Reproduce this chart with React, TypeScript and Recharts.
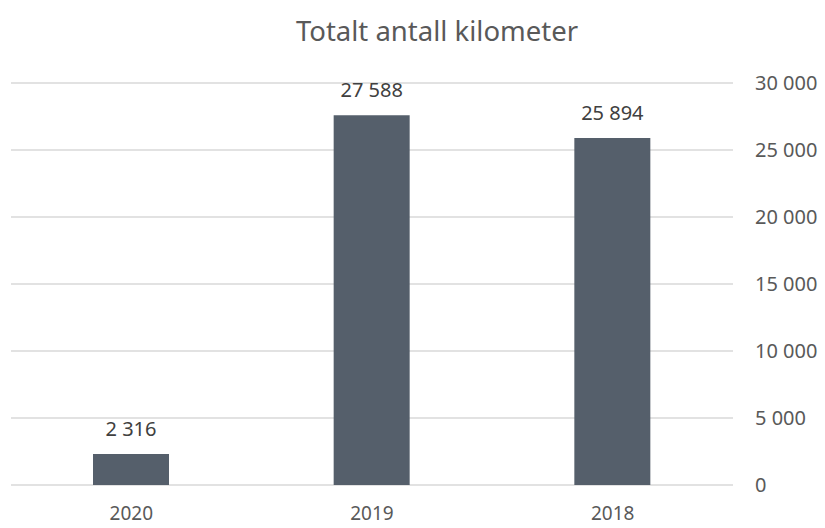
import React from 'react';
import { BarChart, Bar, XAxis, YAxis, CartesianGrid, LabelList } from 'recharts';

const years = ['2020', '2019', '2018'];
const kilometers = [2316, 27588, 25894];
const yTicks = [0, 5000, 10000, 15000, 20000, 25000, 30000];

const data = years.map((year, i) => ({ year, km: kilometers[i] }));

const FONT = '"Noto Sans", sans-serif';
const TEXT = '#595959';

// "27588" -> "27 588"
const fmt = (v: number) => String(v).replace(/\B(?=(\d{3})+(?!\d))/g, ' ');

export default function App() {
  return (
    <div style={{ position: 'absolute', left: 0, top: 0, width: 825, height: 528, background: '#fff' }}>
      <BarChart
        width={825}
        height={528}
        data={data}
        margin={{ top: 83, right: 12, left: 11, bottom: 0 }}
        barCategoryGap="0%"
      >
        <text
          x={437}
          y={41}
          textAnchor="middle"
          style={{ fontFamily: FONT, fontSize: 27.5, fill: TEXT }}
        >
          Totalt antall kilometer
        </text>
        <CartesianGrid vertical={false} stroke="#d9d9d9" strokeWidth={1.5} />
        <XAxis
          dataKey="year"
          axisLine={false}
          tickLine={false}
          tickSize={6}
          tickMargin={16}
          height={43}
          tick={{ fill: TEXT, fontSize: 19, fontFamily: FONT }}
        />
        <YAxis
          orientation="right"
          domain={[0, 30000]}
          ticks={yTicks}
          tickFormatter={fmt}
          axisLine={false}
          tickLine={false}
          tickSize={6}
          tickMargin={16}
          width={80}
          tick={{ fill: TEXT, fontSize: 20, fontFamily: FONT }}
        />
        <Bar dataKey="km" fill="#555f6b" barSize={76} isAnimationActive={false}>
          <LabelList
            dataKey="km"
            position="top"
            offset={18}
            formatter={(v: any) => fmt(Number(v))}
            style={{ fill: '#404040', fontSize: 20, fontFamily: FONT }}
          />
        </Bar>
      </BarChart>
    </div>
  );
}
